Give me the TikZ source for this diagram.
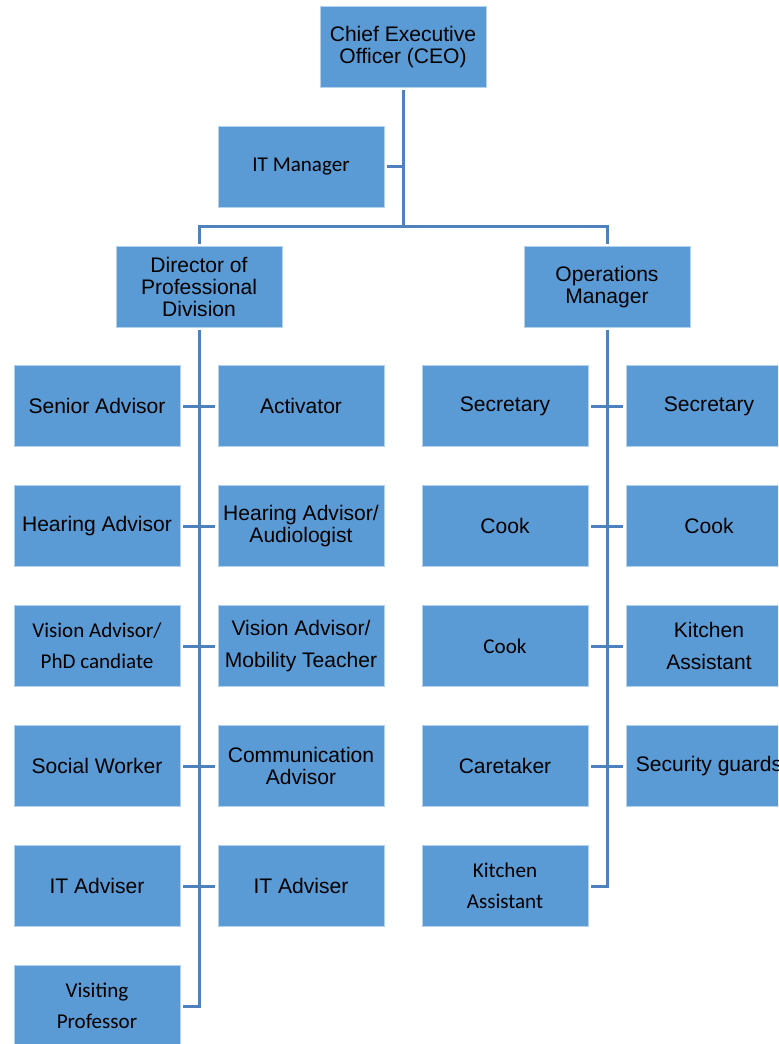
\documentclass[tikz,border=0pt]{standalone}
\usepackage{fontspec}
\setmainfont{Liberation Sans}
\newfontfamily\calibri{Carlito}
\definecolor{boxblue}{HTML}{5B9BD5}
\definecolor{lineblue}{HTML}{4F81BD}
\begin{document}
\begin{tikzpicture}[x=0.75pt, y=-0.75pt,
		box/.style={rectangle, fill=boxblue, draw=boxblue!45!white, line width=0.5pt, minimum width=124.5pt, minimum height=60.75pt, inner sep=0pt, outer sep=2.2pt, align=center, font=\fontsize{15.8}{16.8}\selectfont},
		loose/.style={box, font=\fontsize{15.8}{23.4}\selectfont},
		cbox/.style={box, font=\calibri\fontsize{15.8}{23.6}\selectfont},
		link/.style={draw=lineblue, line width=2.25pt}]
		\useasboundingbox (0,0) rectangle (778,1044);
		\clip (0,0) rectangle (778,1044);
		% top
		\node[box] (ceo) at (403,47) {Chief Executive\\Officer (CEO)};
		\node[cbox] (itm) at (301,167) {IT Manager};
		\node[box] (dir) at (199,287) {Director of\\Professional\\Division};
		\node[box] (ops) at (607,287) {Operations\\Manager};
		\coordinate (bus) at (403,227);
		% professional division
		\node[box] (sa) at (97,406) {Senior Advisor};
		\node[box] (act) at (301,406) {Activator};
		\node[box] (ha) at (97,526) {Hearing Advisor};
		\node[box] (haa) at (301,526) {Hearing Advisor/\\Audiologist};
		\node[cbox] (va) at (97,646) {Vision Advisor/\\PhD candiate};
		\node[loose] (vam) at (301,646) {Vision Advisor/\\Mobility Teacher};
		\node[box] (sw) at (97,766) {Social Worker};
		\node[box] (com) at (301,766) {Communication\\Advisor};
		\node[box] (ita) at (97,886) {IT Adviser};
		\node[box] (itb) at (301,886) {IT Adviser};
		\node[cbox] (vp) at (97,1006) {Visiting\\Professor};
		% operations
		\node[box] (seca) at (505,406) {Secretary};
		\node[box] (secb) at (709,406) {Secretary};
		\node[box] (cooka) at (505,526) {Cook};
		\node[box] (cookb) at (709,526) {Cook};
		\node[cbox] (cookc) at (505,646) {Cook};
		\node[loose] (kita) at (709,646) {Kitchen\\Assistant};
		\node[box] (care) at (505,766) {Caretaker};
		\node[box] (sec) at (709,766) {Security guards};
		\node[cbox] (kitb) at (505,886) {Kitchen\\Assistant};
		% connectors
		\draw[link] (ceo) -- (bus);
		\draw[link] (itm) -- (itm -| bus);
		\draw[link] (dir) |- (bus) -| (ops);
		\draw[link] (dir) |- (vp);
		\draw[link] (ops) |- (kitb);
		\foreach \a/\b in {sa/act, ha/haa, va/vam, sw/com, ita/itb, seca/secb, cooka/cookb, cookc/kita, care/sec}
			\draw[link] (\a) -- (\b);
	\end{tikzpicture}
\end{document}
